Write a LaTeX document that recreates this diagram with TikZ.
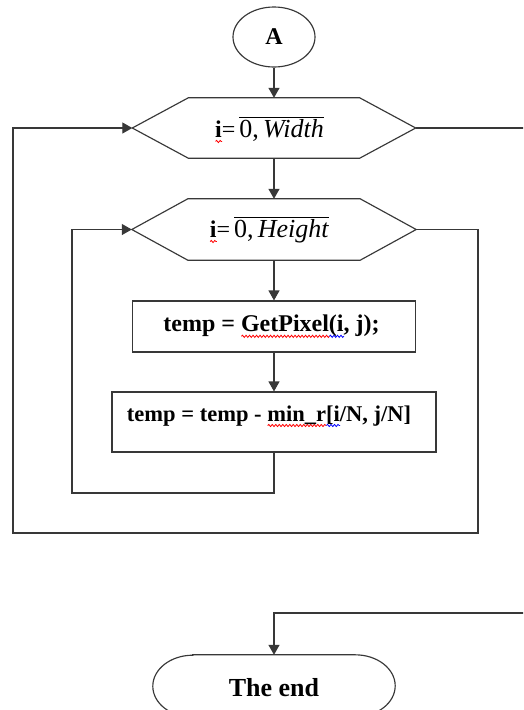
\documentclass[tikz,border=0pt]{standalone}
\usepackage{fontspec}
\setmainfont{Liberation Serif}
\usetikzlibrary{arrows.meta,shapes.geometric,decorations.pathmorphing}

% wavy spell-check underline in a chosen colour
\newsavebox\wavebox
\newcommand\spellwave[2]{\sbox\wavebox{#2}%
  \rlap{\tikz[baseline=0pt,x=1pt,y=1pt]\draw[#1, line width=0.8pt, decorate,
    decoration={snake, amplitude=1.1pt, segment length=3.5pt}] (0pt,-4.5pt) -- (\wd\wavebox,-4.5pt);}%
  \usebox\wavebox}

\tikzset{
  flow/.style={draw=black!78, line width=1.15pt},
  arr/.style={flow, -{Triangle[length=10pt,width=11pt]}},
  txt/.style={font=\fontsize{24}{29}\selectfont},
  startnode/.style={flow, ellipse, minimum width=82pt, minimum height=60pt, inner sep=0pt, font=\fontsize{24}{29}\selectfont\bfseries},
  loophead/.style={rectangle, minimum width=283pt, minimum height=60pt, inner sep=0pt, txt},
  procbox/.style={flow, rectangle, inner sep=0pt, font=\fontsize{24}{29}\selectfont\bfseries},
  endnode/.style={rectangle, minimum width=242pt, minimum height=62pt, inner sep=0pt, font=\fontsize{26}{31}\selectfont\bfseries}
}

% loop counter with its range written under an overbar
\newcommand\looprange[1]{\spellwave{red}{\textbf{i}}=\,{\fontsize{26}{31}\selectfont$\overline{\hbox{0,\,\textit{#1}}}$}}

\begin{document}
\begin{tikzpicture}[x=1pt, y=-1pt]
  \useasboundingbox (0,0) rectangle (523,710);
  \fill[white] (0,0) rectangle (523,710);
  \clip (0,0) rectangle (523,710);

  % nodes
  \node[startnode] (A) at (274,37) {A};
  \node[loophead, text height=39pt, text depth=21pt] (h1) at (274,128)
    {\looprange{Width}\hspace*{9pt}};
  \node[loophead, minimum width=284pt, text height=38pt, text depth=23pt] (h2) at (274,229.5)
    {\looprange{Height}\hspace*{9pt}};
  \node[procbox, minimum width=283pt, minimum height=51pt] (b1) at (274,326.5)
    {temp = \spellwave{red}{GetPixel}\spellwave{blue}{(i}, j);\hspace*{5pt}};
  \node[procbox, minimum width=324pt, text height=26pt, text depth=28pt, inner ysep=3pt,
        font=\fontsize{22.5}{27}\selectfont\bfseries] (b2) at (274,422)
    {temp = temp - \spellwave{red}{min\_r}\spellwave{blue}{[i}/N, j/N]\hspace*{10pt}};
  \node[endnode, text height=41pt, text depth=21pt] (E) at (274,686) {The end};

  % hexagonal loop headers
  \foreach \h in {h1,h2}{
    \draw[flow] ([xshift=56pt]\h.north west) -- ([xshift=-56pt]\h.north east) -- (\h.east)
      -- ([xshift=-56pt]\h.south east) -- ([xshift=56pt]\h.south west) -- (\h.west) -- cycle;
  }

  % terminal with elliptic ends
  \draw[flow] ([xshift=40pt]E.north west) -- ([xshift=-40pt]E.north east)
    arc[start angle=90, end angle=-90, x radius=40pt, y radius=31pt]
    -- ([xshift=40pt]E.south west)
    arc[start angle=270, end angle=90, x radius=40pt, y radius=31pt] -- cycle;

  % corner points of the loop returns
  \coordinate (innerL) at (72,493);
  \coordinate (outerR) at (478,533);
  \coordinate (outerL) at (13,533);
  \coordinate (exitR) at (545,613);

  % straight flow
  \draw[arr] (A.south) -- (h1.north);
  \draw[arr] (h1.south) -- (h2.north);
  \draw[arr] (h2.south) -- (b1.north);
  \draw[arr] (b1.south) -- (b2.north);

  % inner loop return
  \draw[arr] (b2.south) |- (innerL) |- (h2.west);
  % inner loop exit back to outer header
  \draw[arr] (h2.east) -| (outerR) -- (outerL) |- (h1.west);
  % outer loop exit to the end
  \draw[arr] (h1.east) -| (exitR) -| (E.north);
\end{tikzpicture}
\end{document}
